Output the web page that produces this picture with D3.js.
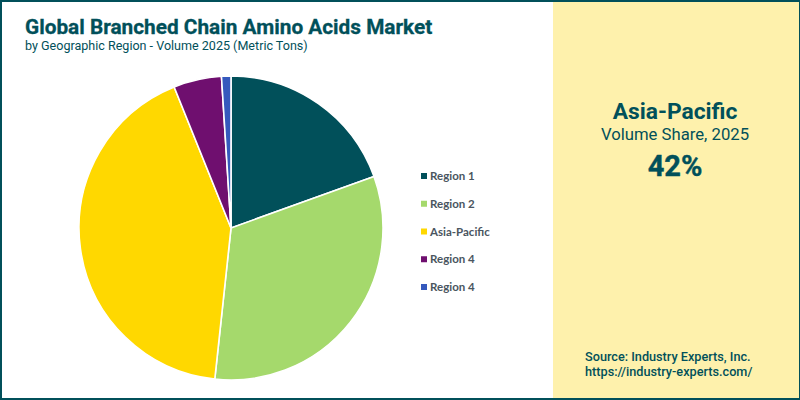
<!DOCTYPE html>
<html>
<head>
<meta charset="utf-8">
<script src="https://cdn.jsdelivr.net/npm/d3@7"></script>
<style>
  html, body { margin: 0; padding: 0; background: #fff; }
  svg { display: block; font-family: Roboto, sans-serif; }
</style>
</head>
<body>
<div id="chart"></div>
<script>
const regions = ["Region 1", "Region 2", "Asia-Pacific", "Region 4", "Region 4"];
const shares = [19.5, 32.2, 42.2, 5.1, 1];
const colors = ["#01505a", "#a5d96c", "#ffd800", "#6f0f6f", "#3559bd"];

const width = 800, height = 400;
const teal = "#01505a";

const svg = d3.select("#chart").append("svg")
  .attr("width", width)
  .attr("height", height);

// side panel
svg.append("rect")
  .attr("x", 553).attr("y", 0)
  .attr("width", 247).attr("height", 400)
  .attr("fill", "#fef1ac");

// frame: 2px on three sides, thinner on the right
svg.append("path")
  .attr("d", "M0,1H800M1,0V400M0,399H800")
  .attr("fill", "none")
  .attr("stroke", teal)
  .attr("stroke-width", 2);
svg.append("path")
  .attr("d", "M799.5,0V400")
  .attr("fill", "none")
  .attr("stroke", teal)
  .attr("stroke-width", 1);

// titles
svg.append("text")
  .attr("x", 25).attr("y", 34)
  .attr("font-size", 20.8).attr("font-weight", 700)
  .attr("fill", teal)
  .attr("stroke", teal).attr("stroke-width", 0.3)
  .text("Global Branched Chain Amino Acids Market");

svg.append("text")
  .attr("x", 25).attr("y", 50)
  .attr("font-size", 12.55)
  .attr("fill", teal)
  .text("by Geographic Region - Volume 2025 (Metric Tons)");

// pie
const pie = d3.pie().sort(null);
const arc = d3.arc().innerRadius(0).outerRadius(152);

svg.append("g")
  .attr("transform", "translate(231,228)")
  .selectAll("path")
  .data(pie(shares))
  .join("path")
  .attr("d", arc)
  .attr("fill", (d, i) => colors[i])
  .attr("stroke", "#fff")
  .attr("stroke-width", 1.6);

// legend
const legendY = d3.scalePoint()
  .domain(d3.range(regions.length))
  .range([176, 287]);

const legend = svg.append("g")
  .selectAll("g")
  .data(regions)
  .join("g")
  .attr("transform", (d, i) => `translate(421,${legendY(i)})`);

legend.append("rect")
  .attr("y", -3).attr("width", 6).attr("height", 6)
  .attr("fill", (d, i) => colors[i]);

legend.append("text")
  .attr("x", 9).attr("y", 4)
  .attr("font-family", "Lato, sans-serif")
  .attr("font-size", 11.5).attr("font-weight", 700)
  .attr("fill", "#4a5560")
  .text(d => d);

// callout
const callout = svg.append("g").attr("text-anchor", "middle").attr("fill", teal);

callout.append("text")
  .attr("x", 675).attr("y", 119)
  .attr("font-size", 22.8).attr("font-weight", 700)
  .text("Asia-Pacific");

callout.append("text")
  .attr("x", 675).attr("y", 140)
  .attr("font-size", 16.7)
  .text("Volume Share, 2025");

callout.append("text")
  .attr("x", 675).attr("y", 176)
  .attr("font-size", 29).attr("font-weight", 700)
  .attr("stroke", teal).attr("stroke-width", 0.4)
  .text("42%");

// source
svg.append("text")
  .attr("x", 585).attr("y", 361)
  .attr("font-size", 12.7).attr("font-weight", 500)
  .attr("fill", teal)
  .text("Source: Industry Experts, Inc.");

svg.append("text")
  .attr("x", 585).attr("y", 376)
  .attr("font-size", 12.7).attr("font-weight", 500)
  .attr("fill", teal)
  .text("https://industry-experts.com/");
</script>
</body>
</html>
